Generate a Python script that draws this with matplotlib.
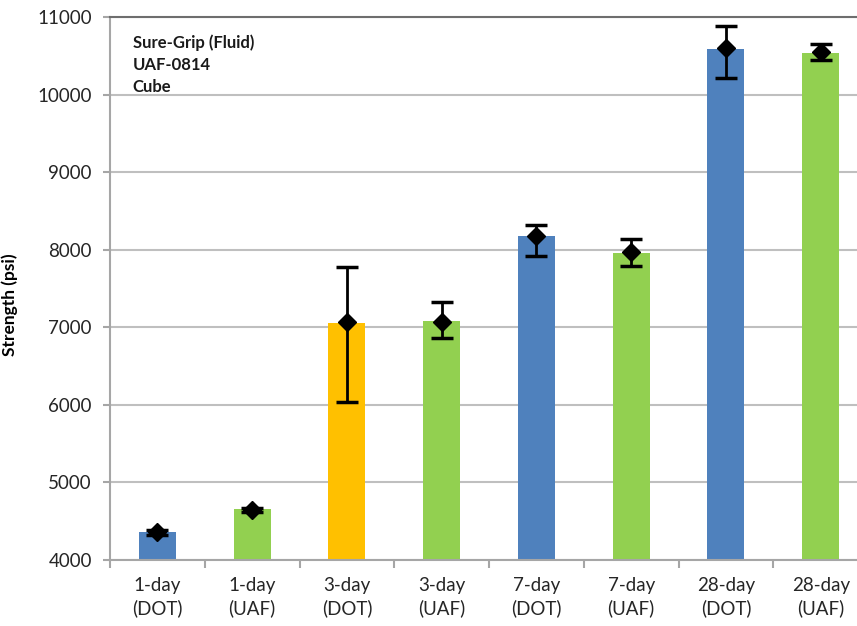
#!/usr/bin/env python3
"""Cube strength by age and lab, with min/max error bars."""

import matplotlib

matplotlib.use("Agg")
import matplotlib.pyplot as plt
import numpy as np

plt.rcParams["font.family"] = ["Lato", "DejaVu Sans"]

CATEGORIES = ["1-day\n(DOT)", "1-day\n(UAF)", "3-day\n(DOT)", "3-day\n(UAF)",
              "7-day\n(DOT)", "7-day\n(UAF)", "28-day\n(DOT)", "28-day\n(UAF)"]
BAR_VALUES = [4365, 4653, 7060, 7081, 8181, 7962, 10592, 10540]
MARKER_VALUES = [4355, 4648, 7062, 7066, 8180, 7967, 10605, 10545]
ERR_LOW = [4325, 4620, 6041, 6866, 7919, 7794, 10218, 10446]
ERR_HIGH = [4390, 4675, 7781, 7332, 8319, 8142, 10884, 10652]
BAR_COLORS = ["#4F81BD", "#92D050", "#FFC000", "#92D050",
              "#4F81BD", "#92D050", "#4F81BD", "#92D050"]
Y_TICKS = [4000, 5000, 6000, 7000, 8000, 9000, 10000, 11000]
NOTE = "Sure-Grip (Fluid)\nUAF-0814\nCube"

fig = plt.figure(figsize=(8.57, 6.26), dpi=100)
ax = fig.add_axes([0.1284, 0.1054, 0.8845, 0.8674])

x = np.arange(len(CATEGORIES)) + 0.5
ax.bar(x, np.array(BAR_VALUES) - 4000, bottom=4000, width=0.39,
       color=BAR_COLORS, zorder=2)

marks = np.array(MARKER_VALUES)
yerr = [marks - np.array(ERR_LOW), np.array(ERR_HIGH) - marks]
ax.errorbar(x, marks, yerr=yerr, fmt="D", color="black", markersize=9,
            elinewidth=2, capsize=8, capthick=2.5, zorder=3)

ax.set_xlim(0, len(CATEGORIES))
ax.set_ylim(4000, 11000)
ax.set_yticks(Y_TICKS)
ax.yaxis.grid(True, color="#BFBFBF", linewidth=1.5, zorder=0)
ax.set_axisbelow(True)

# category boundaries carry the tick marks, labels sit between them
ax.set_xticks(np.arange(len(CATEGORIES) + 1))
ax.set_xticklabels([])
ax.set_xticks(x, minor=True)
ax.set_xticklabels(CATEGORIES, minor=True, fontsize=13.5, color="#262626",
                   linespacing=1.35)
ax.tick_params(axis="x", which="minor", length=0, pad=12)
ax.tick_params(axis="x", which="major", length=6, width=1.5, color="#A6A6A6")
ax.tick_params(axis="y", length=5, width=1.5, color="#A6A6A6",
               labelsize=13.5, labelcolor="#262626", pad=8)

for side in ("left", "bottom"):
    ax.spines[side].set_color("#A6A6A6")
    ax.spines[side].set_linewidth(1.5)
ax.spines["top"].set_color("#6E6E6E")
ax.spines["top"].set_linewidth(1.5)
ax.spines["right"].set_visible(False)

ax.set_ylabel("Strength (psi)", fontsize=12.5, fontweight="bold")
ax.yaxis.set_label_coords(-0.122, 0.471)

ax.text(0.03, 0.968, NOTE, transform=ax.transAxes, ha="left", va="top",
        fontsize=12, fontweight="bold", linespacing=1.45, color="#1a1a1a")

fig.savefig("out.png", dpi=100)
